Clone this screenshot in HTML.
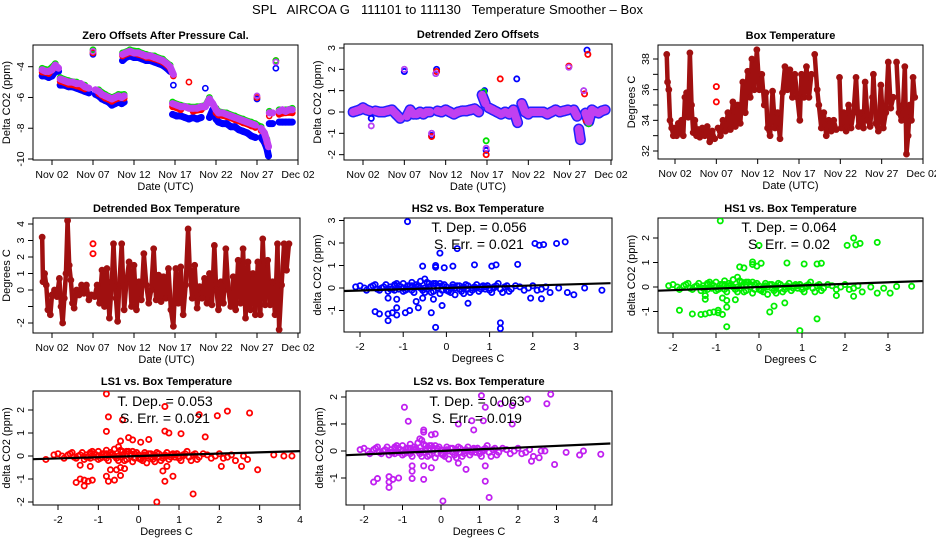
<!DOCTYPE html>
<html><head><meta charset="utf-8"><style>
html,body{margin:0;padding:0;background:#fff;}
svg{display:block;font-family:"Liberation Sans",Arial,sans-serif;}
</style></head><body>
<svg id="chart" width="936" height="540" viewBox="0 0 936 540" xmlns="http://www.w3.org/2000/svg">
<rect x="0" y="0" width="936" height="540" fill="#fff"/>
<text x="252" y="14" font-size="13" textLength="391" xml:space="preserve">SPL   AIRCOA G   111101 to 111130   Temperature Smoother – Box</text>
</svg>
<script>
// ---------- data ----------
const dateTicks = [2,7,12,17,22,27,32];
const dateTickLabels = ['Nov 02','Nov 07','Nov 12','Nov 17','Nov 22','Nov 27','Dec 02'];

const zoLS2 = [[0.8,-4.2],[1.2,-4.3],[1.6,-4.3],[2.0,-4.2],[2.4,-3.9],[2.8,-4.1],[3.0,-4.8],[3.5,-4.9],[4.0,-5.0],[4.5,-5.0],[5.0,-5.1],[5.5,-5.1],[6.0,-5.3],[6.5,-5.4],[7.0,-3.0],[7.3,-5.5],[7.7,-5.6],[8.1,-5.8],[8.5,-5.9],[8.9,-6.0],[9.3,-6.1],[9.7,-6.0],[10.1,-5.9],[10.5,-6.0],[10.8,-5.9],
[10.6,-3.2],[11.0,-3.1],[11.5,-3.0],[12.0,-3.1],[12.5,-3.1],[13.0,-3.2],[13.5,-3.3],[14.0,-3.3],[14.5,-3.4],[15.0,-3.5],[15.5,-3.6],[16.0,-3.8],[16.4,-4.0],[16.8,-4.5],
[16.7,-6.4],[17.2,-6.5],[17.7,-6.6],[18.2,-6.6],[18.7,-6.7],[19.2,-6.7],[19.7,-6.7],[20.2,-6.6],[20.7,-6.6],[21.2,-6.1],[21.6,-6.4],[22.0,-6.8],
[22.3,-7.0],[22.8,-7.0],[23.3,-7.1],[23.8,-7.2],[24.3,-7.3],[24.8,-7.4],[25.3,-7.5],[25.8,-7.6],[26.3,-7.7],[26.8,-7.8],[27.0,-5.9],[27.5,-8.0],[27.9,-8.3],[28.2,-8.8],[28.4,-9.2],
[28.5,-7.0],[28.9,-7.0],[29.3,-3.7],[29.7,-6.9],[30.1,-6.8],[30.5,-6.9],[30.9,-6.8],[31.3,-6.8]];
const zoHS2 = [[0.8,-4.6],[1.2,-4.6],[1.6,-4.7],[2.0,-4.6],[2.4,-4.3],[2.8,-4.3],[3.0,-5.2],[3.5,-5.2],[4.0,-5.3],[4.5,-5.3],[5.0,-5.4],[5.5,-5.5],[6.0,-5.6],[6.5,-5.7],[7.0,-3.2],[7.3,-5.8],[7.7,-5.9],[8.1,-6.1],[8.5,-6.2],[8.9,-6.3],[9.3,-6.5],[9.7,-6.4],[10.1,-6.3],[10.5,-6.4],[10.8,-6.3],
[10.6,-3.6],[11.0,-3.4],[11.5,-3.3],[12.0,-3.4],[12.5,-3.4],[13.0,-3.5],[13.5,-3.6],[14.0,-3.6],[14.5,-3.7],[15.0,-3.8],[15.5,-3.9],[16.0,-4.1],[16.4,-4.3],[16.8,-5.2],
[16.7,-7.1],[17.2,-7.2],[17.7,-7.2],[18.2,-7.3],[18.7,-7.4],[19.2,-7.3],[19.7,-7.4],[20.2,-7.3],[20.7,-5.4],[21.2,-7.3],[21.6,-6.8],[22.0,-7.4],
[22.3,-7.6],[22.8,-7.7],[23.3,-7.7],[23.8,-7.9],[24.3,-7.9],[24.8,-8.1],[25.3,-8.2],[25.8,-8.3],[26.3,-8.5],[26.8,-8.6],[27.0,-6.1],[27.5,-8.6],[27.9,-8.9],[28.2,-9.3],[28.4,-9.8],
[28.5,-7.7],[28.9,-7.7],[29.3,-4.1],[29.7,-7.6],[30.1,-7.6],[30.5,-7.6],[30.9,-7.6],[31.3,-7.6]];
const zoLS1 = [[0.8,-4.35],[1.6,-4.45],[2.4,-4.05],[3.0,-4.95],[4.0,-5.15],[5.0,-5.25],[6.0,-5.45],[7.0,-3.1],[7.7,-5.75],[8.5,-6.05],[9.3,-6.25],[10.1,-6.05],[10.8,-6.05],
[10.6,-3.3],[11.5,-3.1],[12.5,-3.2],[13.5,-3.4],[14.5,-3.5],[15.5,-3.7],[16.4,-4.1],[16.8,-4.6],
[16.7,-6.6],[17.7,-6.8],[18.7,-5.0],[19.2,-6.9],[20.2,-6.8],[21.2,-6.3],[22.0,-7.0],
[22.3,-7.15],[23.3,-7.25],[24.3,-7.45],[25.3,-7.65],[26.3,-7.85],[26.8,-7.95],[27.0,-6.0],[27.5,-8.15],[28.2,-8.95],
[28.5,-7.2],[29.3,-3.6],[29.7,-7.1],[30.5,-7.0],[31.3,-7.0]];
const zoHS1 = [[0.8,-4.1],[1.6,-4.2],[2.4,-3.8],[3.0,-4.7],[4.0,-4.9],[5.0,-5.0],[6.0,-5.2],[7.0,-2.9],[7.7,-5.5],[8.5,-5.8],[9.3,-6.0],[10.1,-5.8],[10.8,-5.8],
[10.6,-3.1],[11.5,-2.9],[12.5,-3.0],[13.5,-3.2],[14.5,-3.3],[15.5,-3.5],[16.4,-3.9],
[16.7,-6.3],[17.7,-6.5],[18.7,-6.6],[19.7,-6.6],[20.7,-6.5],[21.2,-6.0],[22.0,-6.7],
[22.3,-6.9],[23.3,-7.0],[24.3,-7.2],[25.3,-7.4],[26.3,-7.6],[26.8,-7.7],[27.5,-7.9],[28.2,-8.7],
[28.5,-6.9],[29.3,-3.6],[29.7,-6.8],[30.5,-6.8],[31.3,-6.7]];

const detLS2 = [[0.8,0],[1.2,0.05],[1.6,0.1],[2.0,0.2],[2.4,0.1],[2.8,0.05],[3.0,-0.65],[3.5,0.05],[4.0,0],[4.5,0.0],[5.0,0.05],[5.5,0.1],[6.0,-0.1],[6.5,-0.3],[7.0,2.0],[7.3,-0.2],[7.7,0.1],[8.1,-0.1],[8.5,-0.1],[8.9,0.0],[9.3,-0.1],[9.7,0.0],[10.1,0.0],[10.3,-1.0],[10.8,1.8],
[11.0,0.05],[11.5,0.0],[12.0,0.1],[12.5,0.0],[13.0,-0.1],[13.5,0.0],[14.0,0.05],[14.5,0.05],[15.0,0.1],[15.5,0.15],[16.0,0.0],[16.4,0.8],[16.8,0.4],
[16.9,-1.7],[17.2,0.2],[17.7,0.1],[18.2,0.0],[18.7,-0.1],[19.2,0.0],[19.7,-0.1],[20.2,0.1],[20.7,-0.5],[21.2,0.4],[21.6,0.0],[22.0,-0.1],
[22.3,0.0],[22.8,0.0],[23.3,0.0],[23.8,0.0],[24.3,-0.1],[24.8,0.0],[25.3,0.1],[25.8,0.0],[26.3,0.05],[26.8,0.1],[26.9,2.1],[27.5,0.1],[27.9,-0.2],[28.1,-0.8],[28.3,-1.3],
[28.7,1.0],[28.9,-0.05],[29.3,-0.45],[29.7,0.1],[30.1,0.0],[30.5,-0.05],[30.9,0.05],[31.3,0.1]];
const detHS2Spikes = [[29.1,2.9],[20.6,1.55],[3.0,-0.3],[29.4,-0.5],[16.7,1.0],[10.9,2.0],[16.9,-1.8],[7.0,1.9],[10.3,-1.1]];
const detLS1Spikes = [[29.2,2.7],[18.6,1.55],[16.9,-2.0],[28.8,0.85],[29.0,-0.4],[26.9,2.15],[10.9,1.9],[10.3,-1.15]];
const detHS1Spikes = [[16.9,-1.35],[16.6,0.95],[29.3,-0.55]];

const boxTemp = [[1.0,38.3],[1.1,36.5],[1.25,36],[1.4,34],[1.6,33.5],[1.8,33.0],[2.0,33.5],[2.2,33.0],[2.4,33.8],[2.6,33.2],[2.8,34],[3.0,33],[3.2,35.5],[3.4,35.8],[3.6,34.2],[3.8,38.4],[4.0,35],[4.2,33.2],[4.4,34],[4.6,33.0],[4.8,33.4],[5.0,32.9],[5.3,33.5],[5.6,33.0],[5.9,33.6],[6.2,32.6],[6.5,33.3],[6.8,32.8],[7.2,33.5],[7.5,33.0],[7.8,34.0],[8.1,33.3],[8.4,34.5],[8.7,33.4],[9.0,35.2],[9.3,33.6],[9.6,35.0],[9.9,33.8],[10.2,36.5],[10.5,34.5],[10.8,37.2],[11.1,35.5],[11.3,38.0],[11.6,36.0],[11.9,38.6],[12.2,36.0],[12.5,37.0],[12.8,35.0],[13.0,35.8],[13.2,33.5],[13.5,33.0],[13.8,35.9],[14.1,33.5],[14.4,34.5],[14.7,32.8],[15.0,35.8],[15.3,37.5],[15.6,36.0],[15.9,37.3],[16.2,35.5],[16.5,37.0],[16.8,35.5],[17.1,34.0],[17.3,37.0],[17.6,35.5],[17.9,37.5],[18.2,35.5],[18.5,37.0],[18.9,38.3],[19.2,36.0],[19.4,35.0],[19.7,33.5],[20.0,34.5],[20.3,33.0],[20.6,34.0],[20.9,33.3],[21.2,34.0],[21.5,33.4],[21.9,36.8],[22.1,33.5],[22.4,34.5],[22.7,33.3],[23.0,35.0],[23.3,33.5],[23.6,34.5],[23.9,36.8],[24.2,33.6],[24.5,34.5],[24.8,33.5],[25.0,36.5],[25.3,34.0],[25.6,33.6],[25.9,35.5],[26.0,37.0],[26.3,33.8],[26.6,33.3],[26.9,36.3],[27.2,33.5],[27.5,34.5],[27.8,37.8],[28.1,34.8],[28.4,35.5],[28.8,37.8],[29.1,34.5],[29.4,34.0],[29.6,35.0],[29.8,37.5],[30.0,31.8],[30.2,33.0],[30.4,35.0],[30.6,34.0],[30.8,36.8],[31.0,35.5]];
const boxTempSpikes = [[7.0,36.2],[7.0,35.2]];

const detBoxTemp = [[0.8,3.2],[0.9,0.5],[1.1,1.0],[1.3,0.3],[1.5,-1.2],[1.8,-1.5],[2.0,-0.3],[2.3,0.0],[2.6,-0.4],[2.9,0.7],[3.1,-1.0],[3.3,-2.0],[3.5,-0.5],[3.7,1.0],[3.9,4.2],[4.1,1.5],[4.3,0.6],[4.5,-0.8],[4.7,-1.1],[5.0,0.0],[5.3,-0.3],[5.6,0.3],[5.9,-0.2],[6.2,0.3],[6.5,-0.6],[6.8,-0.3],[7.2,-0.4],[7.5,0.3],[7.8,-0.8],[8.1,1.2],[8.4,-1.0],[8.7,1.3],[9.0,-1.7],[9.3,0.5],[9.5,2.8],[9.8,-0.5],[10.0,-1.9],[10.2,0.2],[10.5,2.8],[10.8,-1.2],[11.1,0.6],[11.4,1.7],[11.7,-1.0],[12.0,1.5],[12.3,-1.2],[12.6,0.5],[12.9,-0.6],[13.2,2.2],[13.5,0.3],[13.8,-0.8],[14.1,0.0],[14.4,2.5],[14.7,-0.6],[15.0,0.9],[15.3,-0.7],[15.6,0.8],[15.9,-0.5],[16.2,1.3],[16.5,-1.2],[16.8,-2.2],[17.1,1.3],[17.4,-0.8],[17.7,1.4],[18.0,-1.5],[18.3,0.3],[18.6,3.7],[18.8,1.2],[19.1,-0.5],[19.4,1.5],[19.7,-1.1],[20.0,0.2],[20.3,-0.5],[20.6,0.7],[20.9,-0.8],[21.2,1.0],[21.5,-0.9],[21.8,2.7],[22.0,0.3],[22.3,-1.2],[22.6,0.5],[22.9,-0.8],[23.2,2.5],[23.5,0.0],[23.8,-1.0],[24.1,0.8],[24.4,-1.2],[24.7,1.8],[25.0,-0.8],[25.3,2.5],[25.6,-1.7],[25.9,1.7],[26.2,-1.2],[26.5,1.0],[26.8,-1.5],[27.1,1.7],[27.4,-1.5],[27.7,3.1],[28.0,-0.9],[28.3,1.8],[28.6,-0.9],[28.9,0.5],[29.2,-1.5],[29.5,2.8],[29.7,-2.4],[30.0,0.3],[30.3,2.8],[30.6,1.2],[30.9,2.8]];
const detBoxTempSpikes = [[7.0,2.8],[7.0,2.2]];

const clusterTemp = [-2.1,-2.0,-1.9,-1.7,-1.6,-1.5,-1.4,-1.3,-1.2,-1.1,-1.0,-0.9,-0.8,-0.7,-0.6,-0.5,-0.4,-0.3,-0.2,-0.1,0,0.1,0.2,0.3,0.4,0.5,0.6,0.7,0.8,0.9,1.0,1.1,1.2,1.3,1.4,1.5,1.7,1.9,2.1,2.3,2.4,2.6,-0.3,-0.8,0.15,-1.0,-0.5,0.4,-1.2,-0.65,0.05,0.95,-0.15,-0.45,
 -1.85,-1.75,-1.65,-1.55,-1.45,-1.35,-1.25,-1.15,-1.05,-0.95,-0.85,-0.75,-0.65,-0.55,-0.45,-0.35,-0.25,-0.15,-0.05,0.05,0.15,0.25,0.35,0.45,0.55,0.65,0.75,0.85,0.95,1.05,1.15,1.25,1.35,1.45,1.6,1.8,2.0,2.2,
 -1.3,-1.1,-0.9,-0.7,-0.5,-0.3,-0.1,0.1,0.3,0.5,0.7,0.9,1.1,-1.2,-1.0,-0.8,-0.6,-0.4,-0.2,0.0,0.2,0.4,0.6,0.8,1.0];
const clusterCO2 = [0.05,0.1,0.0,0.1,-0.05,0.0,0.15,0.05,0.1,-0.05,0.2,0.1,0.25,0.15,0.3,0.4,0.2,0.1,0.0,-0.1,0.05,-0.2,-0.3,0.1,0.0,0.1,-0.1,0.15,-0.05,0.05,-0.1,0.0,0.2,-0.2,0.1,-0.05,0.05,0.0,-0.1,0.05,-0.2,0.0,-0.15,-0.1,0.15,-0.15,-0.2,-0.25,-0.1,0.05,-0.1,0.1,0.2,-0.05,
 -0.1,0.05,0.15,-0.1,0.05,-0.15,-0.05,0.2,0.05,-0.1,0.1,-0.2,0.1,-0.1,0.25,-0.2,0.2,-0.25,0.15,-0.15,0.05,0.1,-0.15,0.15,-0.2,0.05,-0.15,0.1,0.1,-0.2,0.1,-0.05,0.05,-0.15,0.1,-0.1,0.1,-0.05,
 -0.05,0.1,-0.05,0.05,0.0,0.2,0.1,0.0,-0.05,-0.05,0.0,-0.05,0.05,0.15,0.0,0.1,0.0,0.05,0.1,-0.1,0.0,0.05,0.0,0.05,0.0];

const hs2Points = [[-0.9,2.95],[-0.15,1.55],[0.25,1.75],[-0.55,0.97],[-0.25,1.0],[-0.25,0.92],[-0.05,0.9],[0.15,0.97],[0.65,1.03],[1.05,0.97],[1.15,1.03],[1.65,1.05],[2.05,1.98],[2.15,1.9],[2.25,1.93],[2.55,1.98],[2.75,2.05],[-1.65,-1.05],[-1.55,-1.15],[-1.35,-1.15],[-1.35,-1.45],[-1.25,-1.1],[-1.15,-1.2],[-1.15,-0.88],[-1.15,-0.5],[-1.35,-0.45],[-0.95,-1.1],[-0.85,-1.0],[-0.65,-0.88],[-0.7,-0.6],[-0.55,-0.45],[-0.35,-1.1],[-0.3,-0.5],[-0.1,-0.78],[0.5,-0.68],[-0.25,-1.75],[1.25,-1.55],[1.25,-1.8],[1.95,-0.45],[2.2,-0.48],[2.95,-0.3],[3.2,0.0],[3.6,-0.1],[2.8,-0.2]];
const hs1Points = [[-0.9,2.7],[0.0,1.7],[2.2,2.0],[2.05,1.7],[2.25,1.72],[2.35,1.78],[2.75,1.82],[-0.45,0.82],[-0.35,0.78],[-0.15,1.02],[-0.15,0.92],[-0.05,0.85],[0.05,0.97],[0.65,0.98],[1.05,0.94],[1.35,0.94],[1.45,0.97],[-1.85,-0.95],[-1.55,-1.1],[-1.35,-1.12],[-1.25,-1.1],[-1.15,-1.05],[-1.05,-1.02],[-0.95,-0.95],[-0.95,-1.05],[-0.85,-1.12],[-0.75,-1.62],[-0.75,-0.82],[-0.85,-0.45],[-0.75,-0.55],[-0.55,-0.52],[-1.25,-0.5],[-1.25,-0.35],[0.25,-1.02],[0.35,-0.78],[0.6,-0.65],[0.95,-1.78],[1.35,-1.3],[1.8,-0.35],[2.2,-0.38],[2.75,-0.25],[3.05,-0.25],[3.2,0.02],[3.55,0.03],[2.9,-0.05]];
const ls1Points = [[-0.8,2.7],[0.65,2.15],[-0.75,1.7],[-0.8,1.07],[-0.4,1.57],[1.5,1.8],[1.95,1.75],[2.2,1.95],[2.75,1.87],[-0.45,0.65],[-0.25,0.8],[-0.15,0.7],[0.05,0.6],[0.25,0.72],[0.65,1.08],[0.75,1.0],[1.05,0.97],[1.65,0.83],[-2.3,-0.15],[-1.55,-1.15],[-1.45,-1.0],[-1.35,-1.3],[-1.35,-1.05],[-1.25,-1.1],[-1.15,-1.05],[-0.8,-0.88],[-0.75,-1.1],[-0.6,-1.05],[-0.7,-0.6],[-0.55,-0.6],[-0.45,-0.85],[-0.45,-0.5],[-0.35,-0.55],[-1.45,-0.4],[-1.2,-0.45],[0.6,-0.65],[0.65,-1.1],[0.85,-0.88],[0.7,-0.45],[0.45,-2.0],[1.35,-1.65],[2.05,-0.45],[2.55,-0.45],[2.95,-0.6],[3.35,0.05],[3.6,0.0],[3.8,0.0],[2.7,-0.15]];
const ls2Points = [[-0.95,1.62],[-0.85,1.1],[1.05,2.05],[1.15,1.62],[1.55,1.75],[1.85,1.68],[2.25,1.92],[2.85,2.1],[2.75,1.75],[0.8,1.12],[1.1,1.12],[1.85,1.0],[-0.45,0.78],[-0.45,0.7],[-0.25,0.6],[-0.15,0.63],[0.45,1.0],[0.85,0.78],[-0.55,0.45],[-1.75,-1.15],[-1.65,-1.02],[-1.35,-0.95],[-1.35,-1.15],[-1.35,-1.35],[-1.25,-1.05],[-1.1,-1.0],[-0.75,-1.02],[-0.75,-0.55],[-0.75,-0.75],[-0.45,-1.05],[-0.45,-0.55],[-0.25,-0.62],[0.05,-1.85],[0.45,-0.45],[0.65,-0.68],[1.15,-0.55],[1.15,-1.12],[1.25,-1.72],[2.35,-0.38],[2.55,-0.25],[2.95,-0.5],[3.25,-0.05],[3.6,-0.15],[3.7,0.0],[4.15,-0.12],[2.7,0.0]];

const fitSlopes = [0.056, 0.064, 0.053, 0.063];
const fitIntercepts = [0, 0, 0, 0];
const fitDepLabels = ['0.056','0.064','0.053','0.063'];
const fitErrLabels = ['0.021','0.02','0.021','0.019'];

// ---------- drawing ----------
const NS = 'http://www.w3.org/2000/svg';
const svg = document.getElementById('chart');
function mk(tag, attrs, parent){
  const e = document.createElementNS(NS, tag);
  for (const k in attrs) e.setAttribute(k, attrs[k]);
  (parent || svg).appendChild(e);
  return e;
}
function lin(v0,p0,v1,p1){ return v => p0 + (v - v0) * (p1 - p0) / (v1 - v0); }

function frame(p){
  const g = mk('g', {});
  
  
  const box = mk('rect', {x:p.L, y:p.T, width:p.R-p.L, height:p.B-p.T, fill:'none', stroke:'#000', 'stroke-width':1}, g);
  
  
  const xa = mk('line', {x1:p.xs(p.xt[0]), x2:p.xs(p.xt[p.xt.length-1]), y1:p.B, y2:p.B, stroke:'#000'}, g);
  
  
  p.xt.forEach((v,i) => {
    const x = p.xs(v);
    const t = mk('line', {x1:x, x2:x, y1:p.B, y2:p.B+5, stroke:'#000'}, g);
    
    
    if (p.xl[i] !== '') {
      const tl = mk('text', {x:x, y:p.B+18, 'font-size':10.5, 'text-anchor':'middle'}, g);
      tl.textContent = p.xl[i];
      
      
    }
  });
  const ya = mk('line', {x1:p.L, x2:p.L, y1:p.ys(p.yt[0]), y2:p.ys(p.yt[p.yt.length-1]), stroke:'#000'}, g);
  
  
  p.yt.forEach((v,i) => {
    const y = p.ys(v);
    const t = mk('line', {x1:p.L-5, x2:p.L, y1:y, y2:y, stroke:'#000'}, g);
    
    
    if (p.yl[i] !== '') {
      const tl = mk('text', {x:p.L-9, y:y, 'font-size':10.5, 'text-anchor':'middle', transform:'rotate(-90 '+(p.L-9)+' '+y+')'}, g);
      tl.textContent = p.yl[i];
      
      
    }
  });
  const tt = mk('text', {x:(p.L+p.R)/2, y:p.T-6, 'font-size':11, 'font-weight':'bold', 'text-anchor':'middle'}, g);
  tt.textContent = p.title;
  
  
  const xl = mk('text', {x:(p.L+p.R)/2, y:p.B+30, 'font-size':11, 'text-anchor':'middle'}, g);
  xl.textContent = p.xlab;
  
  
  const yx = p.L-23, yc = (p.T+p.B)/2;
  const yl = mk('text', {x:yx, y:yc, 'font-size':11, 'text-anchor':'middle', transform:'rotate(-90 '+yx+' '+yc+')'}, g);
  yl.textContent = p.ylab;
  
  
  const clip = mk('clipPath', {id:'clip-'+p.name}, g);
  mk('rect', {x:p.L, y:p.T, width:p.R-p.L, height:p.B-p.T}, clip);
  const marks = mk('g', {'clip-path':'url(#clip-'+p.name+')'}, g);
  
  
  return marks;
}

function band(g, p, pts, color, width, maxDd, maxDv, name){
  for (let i=1;i<pts.length;i++){
    const a=pts[i-1], b=pts[i];
    if (Math.abs(b[0]-a[0])<=maxDd && Math.abs(b[1]-a[1])<=maxDv){
      const l = mk('line', {x1:p.xs(a[0]), y1:p.ys(a[1]), x2:p.xs(b[0]), y2:p.ys(b[1]), stroke:color, 'stroke-width':width, 'stroke-linecap':'round'}, g);
      
      
    }
  }
  pts.forEach(d => {
    const c = mk('circle', {cx:p.xs(d[0]), cy:p.ys(d[1]), r:2.6, fill:'none', stroke:color, 'stroke-width':1.6}, g);
    
    
  });
}
function dots(g, p, pts, color, name){
  pts.forEach(d => {
    const c = mk('circle', {cx:p.xs(d[0]), cy:p.ys(d[1]), r:2.6, fill:'none', stroke:color, 'stroke-width':1.8}, g);
    
    
  });
}

// Panel 1: zero offsets
const p1 = {name:'zero-offsets-panel', L:33, R:298, T:45, B:160, xs:lin(2,52,32,298), ys:lin(-4,66.7,-10,159),
  xt:dateTicks, xl:dateTickLabels, yt:[-10,-8,-6,-4], yl:['-10','-8','-6','-4'],
  title:'Zero Offsets After Pressure Cal.', xlab:'Date (UTC)', ylab:'Delta CO2 (ppm)'};
let g = frame(p1);
band(g,p1,zoHS2,'#0000ff',7,0.6,0.7,'hs2');
band(g,p1,zoLS1,'#ff0000',6,1.1,0.7,'ls1');
band(g,p1,zoHS1,'#00dd00',6,1.1,0.7,'hs1');
band(g,p1,zoLS2,'#c040f0',7,0.6,0.7,'ls2');

// Panel 2: detrended zero offsets
const p2 = {name:'detrended-zero-offsets-panel', L:344, R:612, T:44, B:160, xs:lin(2,363,32,611), ys:lin(0,112,3,48),
  xt:dateTicks, xl:dateTickLabels, yt:[-2,-1,0,1,2,3], yl:['-2','-1','0','1','2','3'],
  title:'Detrended Zero Offsets', xlab:'Date (UTC)', ylab:'Delta CO2 (ppm)'};
g = frame(p2);
band(g,p2,detLS2,'#2020ff',11,0.6,0.6,'hs2-band');
dots(g,p2,detHS2Spikes,'#0000ff','hs2-point');
dots(g,p2,detLS1Spikes,'#ff0000','ls1-point');
dots(g,p2,detHS1Spikes,'#00dd00','hs1-point');
band(g,p2,detLS2,'#c040f0',8,0.6,0.6,'ls2');

// Panel 3: box temperature
const p3 = {name:'box-temperature-panel', L:658, R:923, T:45, B:159, xs:lin(2,675,32,923), ys:lin(32,151,38,59),
  xt:dateTicks, xl:dateTickLabels, yt:[32,33,34,35,36,37,38], yl:['32','','34','','36','','38'],
  title:'Box Temperature', xlab:'Date (UTC)', ylab:'Degrees C'};
g = frame(p3);
band(g,p3,boxTemp,'#a01010',4.5,0.35,10,'box-temp');
dots(g,p3,boxTempSpikes,'#ff0000','box-temp-point');

// Panel 4: detrended box temperature
const p4 = {name:'detrended-box-temperature-panel', L:33, R:300, T:218, B:333, xs:lin(2,52,32,298), ys:lin(0,290,4,224),
  xt:dateTicks, xl:dateTickLabels, yt:[-2,-1,0,1,2,3,4], yl:['-2','','0','1','2','3','4'],
  title:'Detrended Box Temperature', xlab:'Date (UTC)', ylab:'Degrees C'};
g = frame(p4);
band(g,p4,detBoxTemp,'#a01010',4.5,0.35,10,'det-box-temp');
dots(g,p4,detBoxTempSpikes,'#ff0000','det-box-temp-point');

// Scatter panels
function scatter(p, pts, color, idx, ax, ay){
  const g = frame(p);
  const cl = clusterTemp.map((t,i)=>[t, clusterCO2[i]]);
  dots(g,p,cl,color,'cluster-point');
  dots(g,p,pts,color,'scatter-point');
  const x0 = p.xmin, x1 = p.xmax;
  const fl = mk('line', {x1:p.xs(x0), y1:p.ys(fitSlopes[idx]*x0+fitIntercepts[idx]), x2:p.xs(x1), y2:p.ys(fitSlopes[idx]*x1+fitIntercepts[idx]), stroke:'#000', 'stroke-width':2.2}, g);
  
  
  const t1 = mk('text', {x:ax, y:ay, 'font-size':14, 'text-anchor':'middle', 'xml:space':'preserve'});
  t1.textContent = 'T. Dep. =  ' + fitDepLabels[idx];
  
  
  const t2 = mk('text', {x:ax, y:ay+17, 'font-size':14, 'text-anchor':'middle', 'xml:space':'preserve'});
  t2.textContent = 'S. Err. =  ' + fitErrLabels[idx];
  
  
}
const p5 = {name:'hs2-vs-box-temperature-panel', L:344, R:612, T:218, B:332, xs:lin(0,446.4,3,576), ys:lin(0,288,3,220.5),
  xt:[-2,-1,0,1,2,3], xl:['-2','-1','0','1','2','3'], yt:[-1,0,1,2,3], yl:['-1','0','1','2','3'],
  title:'HS2 vs. Box Temperature', xlab:'Degrees C', ylab:'delta CO2 (ppm)', xmin:-2.4, xmax:3.8};
scatter(p5, hs2Points, '#0000ff', 0, 479, 232);
const p6 = {name:'hs1-vs-box-temperature-panel', L:658, R:923, T:218, B:333, xs:lin(0,759,3,888), ys:lin(0,287,2,238),
  xt:[-2,-1,0,1,2,3], xl:['-2','-1','0','1','2','3'], yt:[-1,0,1,2], yl:['-1','0','1','2'],
  title:'HS1 vs. Box Temperature', xlab:'Degrees C', ylab:'delta CO2 (ppm)', xmin:-2.4, xmax:3.8};
scatter(p6, hs1Points, '#00ee00', 1, 789, 232);
const p7 = {name:'ls1-vs-box-temperature-panel', L:33, R:300, T:391, B:505, xs:lin(-2,58,4,300), ys:lin(0,456,2,410),
  xt:[-2,-1,0,1,2,3,4], xl:['-2','-1','0','1','2','3','4'], yt:[-2,-1,0,1,2], yl:['-2','-1','0','1','2'],
  title:'LS1 vs. Box Temperature', xlab:'Degrees C', ylab:'delta CO2 (ppm)', xmin:-2.7, xmax:4.0};
scatter(p7, ls1Points, '#ff0000', 2, 165, 406);
const p8 = {name:'ls2-vs-box-temperature-panel', L:346, R:612, T:391, B:505, xs:lin(-2,364,4,595), ys:lin(0,451,2,397),
  xt:[-2,-1,0,1,2,3,4], xl:['-2','-1','0','1','2','3','4'], yt:[-1,0,1,2], yl:['-1','0','1','2'],
  title:'LS2 vs. Box Temperature', xlab:'Degrees C', ylab:'delta CO2 (ppm)', xmin:-2.5, xmax:4.4};
scatter(p8, ls2Points, '#c020f0', 3, 477, 406);
</script>
</body></html>
